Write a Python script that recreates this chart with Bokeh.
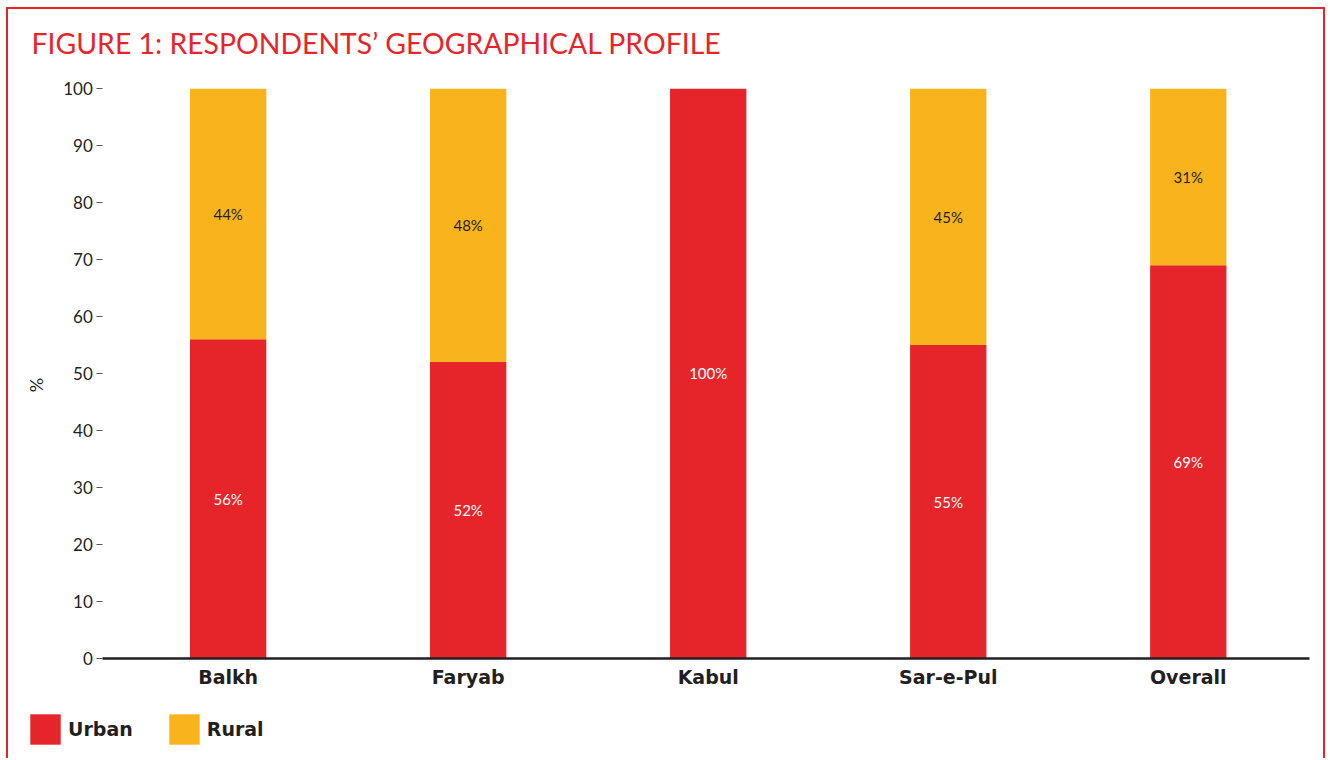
from bokeh.plotting import figure
from bokeh.models import ColumnDataSource, FixedTicker, LabelSet, Label
from bokeh.core.properties import value
from bokeh.embed import file_html
from bokeh.resources import INLINE

categories = ["Balkh", "Faryab", "Kabul", "Sar-e-Pul", "Overall"]
urban = [56, 52, 100, 55, 69]
rural = [44, 48, 0, 45, 31]
y_ticks = [0, 10, 20, 30, 40, 50, 60, 70, 80, 90, 100]
title_text = "FIGURE 1: RESPONDENTS\u2019 GEOGRAPHICAL PROFILE"

RED = "#E52529"
YEL = "#F9B41D"
DARK = "#231F20"
FONT = "Lato"
BOLD = "DejaVu Sans"

W, H = 1315, 749
# plot area geometry (pixels within the canvas)
AX_L, AX_R = 94, 1297          # x-axis line extent
C0, STEP = 219, 239.3          # first category centre, category spacing
Y0, PX_PER = 647, 5.68         # baseline pixel row, pixels per percentage point

xs = list(range(len(categories)))
src = ColumnDataSource(dict(x=xs, urban=urban, rural=rural, cat=categories))

x_start = (0 - C0) / STEP
x_end = (W - C0) / STEP
y_start = (Y0 - H) / PX_PER
y_end = Y0 / PX_PER

p = figure(width=W, height=H, output_backend="svg", toolbar_location=None,
           x_range=(x_start, x_end), y_range=(y_start, y_end),
           min_border=0)
p.styles = {"border": "2px solid #E52529", "border-bottom": "none",
            "margin": "7px 0 0 6px", "box-sizing": "content-box"}
p.outline_line_color = None
p.grid.grid_line_color = None

p.vbar_stack(["urban", "rural"], x="x", width=0.318, color=[RED, YEL], line_color=None,
             source=src, legend_label=["Urban", "Rural"])

# value labels
u_src = ColumnDataSource(dict(x=xs, y=[v / 2 for v in urban], t=[f"{v}%" for v in urban]))
r_idx = [i for i, v in enumerate(rural) if v > 0]
r_src = ColumnDataSource(dict(x=[xs[i] for i in r_idx],
                              y=[urban[i] + rural[i] / 2 for i in r_idx],
                              t=[f"{rural[i]}%" for i in r_idx]))
p.add_layout(LabelSet(x="x", y="y", text="t", source=u_src, text_align="center",
                      text_baseline="middle", text_color="white", text_font=value(FONT),
                      text_font_size="15px"))
p.add_layout(LabelSet(x="x", y="y", text="t", source=r_src, text_align="center",
                      text_baseline="middle", text_color=DARK, text_font=value(FONT),
                      text_font_size="15px"))

# x axis (fixed at y = 0)
xa = p.xaxis[0]
xa.fixed_location = 0
xa.bounds = ((AX_L - C0) / STEP, (AX_R - C0) / STEP)
xa.ticker = FixedTicker(ticks=xs)
xa.major_label_overrides = {i: c for i, c in zip(xs, categories)}
xa.major_tick_line_color = None
xa.minor_tick_line_color = None
xa.axis_line_color = DARK
xa.axis_line_width = 2.5
xa.major_label_text_font = BOLD
xa.major_label_text_font_style = "bold"
xa.major_label_text_font_size = "19px"
xa.major_label_text_color = DARK
xa.major_label_standoff = 2

# y axis (fixed at the left end of the x axis)
ya = p.yaxis[0]
ya.fixed_location = (AX_L - C0) / STEP
ya.ticker = FixedTicker(ticks=y_ticks)
ya.axis_line_color = None
ya.minor_tick_line_color = None
ya.major_tick_out = 6
ya.major_tick_in = 0
ya.major_tick_line_color = "#555555"
ya.major_tick_line_width = 1
ya.major_label_standoff = 4
ya.major_label_text_font = FONT
ya.major_label_text_font_size = "17px"
ya.major_label_text_color = DARK
ya.axis_label = "%"
ya.axis_label_text_font = FONT
ya.axis_label_text_font_style = "normal"
ya.axis_label_text_font_size = "18px"
ya.axis_label_text_color = DARK
ya.axis_label_standoff = 13

# title
p.add_layout(Label(x=23, y=H - 31, x_units="screen", y_units="screen", text=title_text,
                   text_font=FONT, text_font_size="28.4px", text_color=RED,
                   text_baseline="alphabetic"))

# legend
lg = p.legend[0]
lg.orientation = "horizontal"
lg.location = (18, 12)
lg.background_fill_alpha = 0
lg.border_line_color = None
lg.padding = 0
lg.margin = 0
lg.glyph_width = 38
lg.glyph_height = 38
lg.label_height = 38
lg.label_standoff = 4
lg.spacing = 32
lg.label_text_font = BOLD
lg.label_text_font_style = "bold"
lg.label_text_font_size = "19px"
lg.label_text_color = DARK

open("out.html", "w").write(file_html(p, INLINE))
